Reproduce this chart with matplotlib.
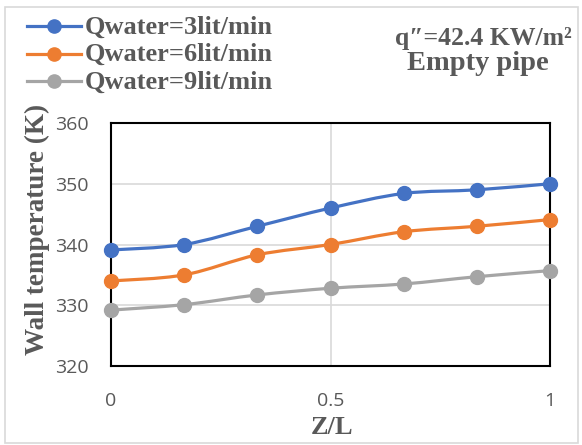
import numpy as np
import matplotlib
matplotlib.use("Agg")
import matplotlib.pyplot as plt
from matplotlib.path import Path
from matplotlib.patches import PathPatch, Rectangle
from matplotlib.lines import Line2D

z = [0, 1/6, 2/6, 3/6, 4/6, 5/6, 1]
q3 = [339.1, 340.0, 343.0, 346.0, 348.4, 349.0, 350.0]
q6 = [334.0, 335.0, 338.3, 340.0, 342.1, 343.0, 344.1]
q9 = [329.2, 330.1, 331.7, 332.8, 333.5, 334.7, 335.7]
labels = ["Qwater=3lit/min", "Qwater=6lit/min", "Qwater=9lit/min"]
colors = ["#4472C4", "#ED7D31", "#A5A5A5"]
yticks = [320, 330, 340, 350, 360]
xticks = [0, 0.5, 1]

W, H = 582, 445
fig = plt.figure(figsize=(W/100, H/100), dpi=100)
ax = fig.add_axes([111/W, 1 - 366/H, (550-111)/W, (366-123)/H])

def smooth_path(x, y, t=1/6):
    x = np.asarray(x); y = np.asarray(y)
    verts = [(x[0], y[0])]
    codes = [Path.MOVETO]
    n = len(x)
    for i in range(n - 1):
        p0 = np.array([x[max(i-1, 0)], y[max(i-1, 0)]])
        p1 = np.array([x[i], y[i]])
        p2 = np.array([x[i+1], y[i+1]])
        p3 = np.array([x[min(i+2, n-1)], y[min(i+2, n-1)]])
        c1 = p1 + (p2 - p0) * t
        c2 = p2 - (p3 - p1) * t
        verts += [tuple(c1), tuple(c2), tuple(p2)]
        codes += [Path.CURVE4] * 3
    return Path(verts, codes)

for ys, c in zip([q3, q6, q9], colors):
    ax.add_patch(PathPatch(smooth_path(z, ys), fill=False, edgecolor=c, lw=2.3, zorder=3))
    ax.plot(z, ys, ls="none", marker="o", ms=10, color=c, zorder=4, clip_on=False)

ax.set_xlim(0, 1)
ax.set_ylim(320, 360)
ax.set_xticks(xticks)
ax.set_xticklabels(["0", "0.5", "1"])
ax.set_yticks(yticks)
ax.grid(True, color="#D9D9D9", lw=1.2, zorder=0)
ax.set_axisbelow(True)
for s in ax.spines.values():
    s.set_color("black")
    s.set_linewidth(1.5)
ax.tick_params(length=0, labelsize=14, labelcolor="#595959")
ax.tick_params(axis="x", pad=19)
ax.tick_params(axis="y", pad=16)
for lab in ax.get_xticklabels() + ax.get_yticklabels():
    lab.set_family("Open Sans")

tfont = dict(family="Liberation Serif", weight="bold", color="#595959")
ax.set_xlabel("Z/L", fontsize=19, va="center", **tfont)
ax.xaxis.set_label_coords(332/W, 1 - 428/H, transform=fig.transFigure)
ax.set_ylabel("Wall temperature (K)", fontsize=19.5, va="center", **tfont)
ax.yaxis.set_label_coords(37/W, 1 - 229/H, transform=fig.transFigure)

# legend (manual, top-left)
rows_y = [26, 53.5, 81]
for c, lab, ry in zip(colors, labels, rows_y):
    yy = 1 - ry/H
    fig.add_artist(Line2D([27/W, 81/W], [yy, yy], transform=fig.transFigure, color=c, lw=2.3))
    fig.add_artist(Line2D([54/W], [yy], transform=fig.transFigure, color=c, marker="o", ms=9.5, ls="none"))
    fig.text(85/W, 1 - (ry + 1)/H, lab, ha="left", va="center", fontsize=19, **tfont)

fig.text(483/W, 1 - 38/H, "q\u2033=42.4 KW/m\u00b2", ha="center", va="center", fontsize=18.5, **tfont)
fig.text(478/W, 1 - 63/H, "Empty pipe", ha="center", va="center", fontsize=20.5, **tfont)

fig.patches.append(Rectangle((5/W, 2/H), 573/W, 436/H, transform=fig.transFigure,
                             fill=False, edgecolor="#D9D9D9", lw=1.2))

fig.savefig("out.png", dpi=100)
